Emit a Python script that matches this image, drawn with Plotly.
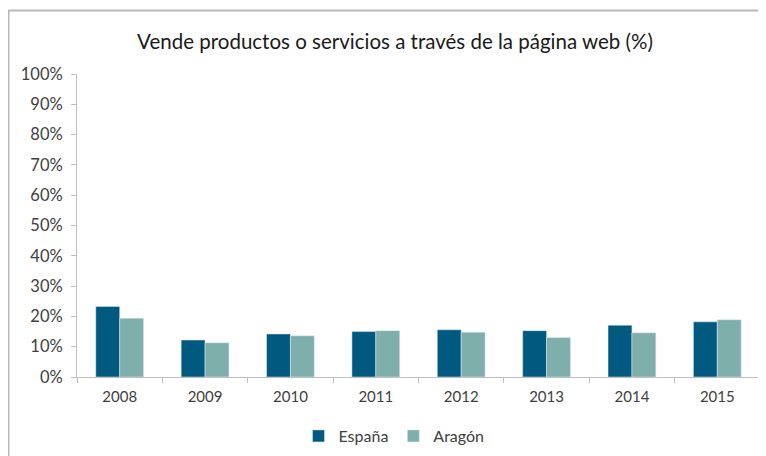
import plotly.graph_objects as go

# Vende productos o servicios a través de la página web (%)
years = ["2008", "2009", "2010", "2011", "2012", "2013", "2014", "2015"]
espana = [0.233, 0.122, 0.142, 0.150, 0.156, 0.153, 0.171, 0.182]
aragon = [0.194, 0.113, 0.136, 0.153, 0.148, 0.130, 0.146, 0.189]

# the page body has an 8px margin, so the figure is drawn 8px smaller
OFF = 8
W, H = 766 - OFF, 456 - OFF
L, R, T, B = 77 - OFF, 6, 74 - OFF, 79
pw, ph = W - L - R, H - T - B


def px_x(x):
    return (x - OFF - L) / pw


def px_y(y):
    return (H - B - (y - OFF)) / ph


font = "Lato, 'Open Sans', sans-serif"
grey_txt = "#404040"
axis_col = "#bfbfbf"

trace1 = go.Bar(x=years, y=espana, name="España", marker_color="#005a80")
trace2 = go.Bar(x=years, y=aragon, name="Aragón", marker_color="#7fafaa")

fig = go.Figure(data=[trace1, trace2])
fig.update_layout(
    width=W, height=H,
    margin=dict(l=L, r=R, t=T, b=B, autoexpand=False),
    paper_bgcolor="white", plot_bgcolor="white",
    font=dict(family=font, size=14, color=grey_txt),
    title=dict(text="Vende productos o servicios a través de la página web (%)",
               x=px_x(395), xref="paper", xanchor="center",
               y=1 - (42 - OFF) / H, yanchor="middle",
               font=dict(size=20.5, color="#1a1a1a")),
    barmode="group", bargap=0.44, bargroupgap=0,
    showlegend=True,
    legend=dict(orientation="h", x=px_x(394), xanchor="center",
                y=px_y(436), yanchor="middle",
                font=dict(size=16, color=grey_txt), itemwidth=30,
                tracegroupgap=0),
    shapes=[
        dict(type="line", xref="paper", yref="paper",
             x0=px_x(8.5), x1=px_x(8.5), y0=px_y(10), y1=px_y(470),
             line=dict(color="#b8b8b8", width=2)),
        dict(type="line", xref="paper", yref="paper",
             x0=px_x(8), x1=px_x(780), y0=px_y(10.5), y1=px_y(10.5),
             line=dict(color="#b8b8b8", width=2)),
    ],
)
fig.update_xaxes(showline=True, linecolor=axis_col, linewidth=1,
                 ticks="outside", tickson="boundaries", ticklen=5,
                 tickcolor=axis_col, showgrid=False, ticklabelstandoff=6,
                 tickfont=dict(size=15, color=grey_txt))
fig.update_yaxes(range=[0, 1], dtick=0.1, tickformat=".0%",
                 showline=True, linecolor=axis_col, linewidth=1,
                 ticks="outside", ticklen=5, tickcolor=axis_col,
                 showgrid=False, zeroline=False, ticklabelstandoff=5,
                 tickfont=dict(size=16.5, color=grey_txt))

fig.write_html("out.html")
